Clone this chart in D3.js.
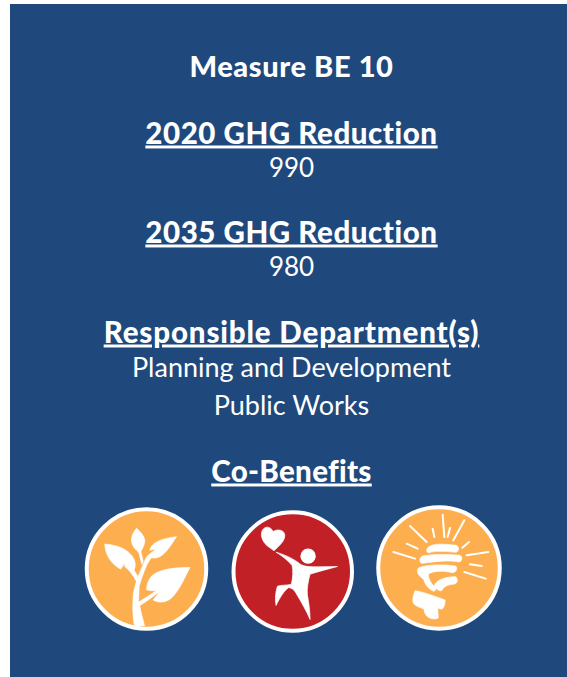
<!DOCTYPE html>
<html>
<head>
<meta charset="utf-8">
<script src="https://cdn.jsdelivr.net/npm/d3@7"></script>
<style>
  html, body { margin: 0; padding: 0; background: #fff; overflow: hidden; }
  text { font-family: Lato, "Open Sans", sans-serif; fill: #fff; text-anchor: middle; font-variant-ligatures: none; }
</style>
</head>
<body>
<svg id="chart"></svg>
<script>
'use strict'

let width = 567
let height = 677

// --------------------------------------------------------------------
// ------------------------------------------------------- DATA -------

let title = 'Measure BE 10'
let headings = ['2020 GHG Reduction', '2035 GHG Reduction', 'Responsible Department(s)', 'Co-Benefits']
let reductionValues = ['990', '980']
let departments = ['Planning and Development', 'Public Works']
let benefits = ['leaf', 'health', 'energy']
let benefitColors = ['#fdae4f', '#c12026', '#fdae4f']

// icon shapes, in 3x pixels around the circle centre
let icons = {
  leaf: {
    fill: [
      'M-30,-122 C-18,-112 -6,-98 -5,-85 C-6,-70 -14,-58 -20,-48 C-34,-58 -46,-72 -45,-90 C-44,-102 -38,-112 -30,-122 Z',
      'M-125,-75 C-100,-72 -78,-68 -60,-55 C-42,-42 -32,-26 -34,-8 L-38,8 C-46,0 -54,-12 -66,-14 C-74,-10 -72,-2 -78,0 C-104,-14 -124,-40 -125,-75 Z',
      'M90,-97 C72,-70 60,-48 38,-36 C24,-30 14,-33 6,-40 C14,-50 22,-52 28,-60 L10,-56 C14,-76 36,-90 90,-97 Z',
      'M131,-5 C112,30 100,62 76,86 C60,100 38,104 20,93 C28,82 38,72 44,60 C26,68 12,65 0,62 C2,42 8,26 22,16 C50,-2 90,-4 131,-5 Z',
      'M-36,172 C-42,140 -42,110 -40,80 C-36,50 -28,30 -18,5 L-4,-28 C2,-40 10,-48 22,-50 L26,-44 C14,-36 8,-24 2,-14 C-6,4 -14,24 -22,52 L-24,100 C-12,92 8,80 40,58 L44,64 C16,86 -4,100 -20,110 C-18,130 -10,150 -6,170 Z',
      'M-62,-14 C-48,-10 -34,6 -24,26 L-30,38 C-38,22 -50,4 -66,-8 Z',
      'M-28,-70 L-22,-72 L-10,-24 L-14,-14 Z'
    ]
  },
  health: {
    fill: [
      'M-78,-78 C-90,-90 -98,-106 -92,-122 C-84,-138 -68,-136 -58,-120 C-48,-128 -26,-126 -24,-110 C-22,-92 -42,-76 -56,-62 Z',
      'M-50,-58 C-30,-52 -8,-44 12,-30 C18,-26 22,-22 26,-20 C40,-14 56,-14 76,-14 L134,-15 C110,-8 84,-2 52,8 C46,30 42,52 44,70 C48,94 52,118 52,144 C42,120 26,92 8,62 C4,54 -4,50 -12,48 C-24,56 -38,76 -50,102 C-54,84 -52,62 -46,44 C-34,40 -18,42 -4,38 C0,18 2,-2 -2,-18 C-16,-34 -30,-46 -50,-58 Z'
    ],
    circles: [[46, -46, 23]]
  },
  energy: {
    fill: [
      'M-32,-62 C-20,-75 20,-72 52,-68 C62,-64 60,-48 50,-47 C20,-50 -10,-52 -30,-46 C-40,-46 -38,-58 -32,-62 Z',
      'M-50,-36 C-20,-42 30,-42 62,-38 C72,-34 70,-20 60,-18 C30,-24 -10,-20 -50,-14 C-60,-14 -60,-30 -50,-36 Z',
      'M-62,0 C-40,-10 10,-12 50,-6 C58,2 50,14 40,14 C10,6 -20,10 -32,18 C-34,34 -18,52 -8,62 L-14,70 C-30,66 -42,50 -46,34 C-58,26 -70,14 -62,0 Z',
      'M-14,52 C-8,36 20,26 50,26 C58,34 56,46 46,48 C26,50 14,56 8,68 C0,70 -10,64 -14,52 Z',
      'M-72,68 C-45,72 -15,84 18,96 C20,104 14,122 8,124 L-4,120 L-2,150 C-15,156 -35,152 -42,136 L-46,122 C-60,118 -76,112 -78,102 C-80,90 -76,80 -72,68 Z'
    ],
    lines: [
      [-137, -48, -72, -28], [-97, -73, -64, -58], [-87, -126, -37, -78],
      [-19, -118, -14, -93], [11, -160, 16, -93], [33, -120, 26, -93],
      [76, -143, 43, -83], [90, -78, 70, -61], [83, -38, 148, -48],
      [93, -11, 128, -6], [76, 12, 140, 32]
    ]
  }
}

// --------------------------------------------------------------------
// ------------------------------------------------------ SCALES ------

let iconX = d3.scalePoint().domain(benefits).range([146.5, 439])
let iconY = d3.scaleOrdinal().domain(benefits).range([569, 571.5, 568])
let iconR = d3.scaleOrdinal().domain(benefits).range([59.75, 59.25, 60.75])

// --------------------------------------------------------------------
// ----------------------------------------------------- DISPLAY ------

let svg = d3.select('#chart')
  .attr('width', width)
  .attr('height', height)
  .style('display', 'block')

svg.append('rect')
  .attr('x', 10)
  .attr('y', 4)
  .attr('width', width - 10)
  .attr('height', height - 4)
  .attr('fill', '#1f497d')

function addText(str, y, size, bold, underline, spacing) {
  return svg.append('text')
    .attr('x', 291.5)
    .attr('y', y)
    .attr('font-size', size)
    .attr('font-weight', bold ? 900 : 400)
    .attr('letter-spacing', spacing || 0)
    .attr('text-decoration', underline ? 'underline' : null)
    .text(str)
}

addText(title, 77, 29, true, false, 0.6)

addText(headings[0], 143.5, 29.5, true, true, 0.55)
addText(reductionValues[0], 177, 26, false, false)

addText(headings[1], 242.5, 29.5, true, true, 0.55)
addText(reductionValues[1], 276, 26, false, false)

addText(headings[2], 342.5, 29.5, true, true, 0.85)
addText(departments[0], 377, 27, false, false)
addText(departments[1], 415, 27, false, false)

addText(headings[3], 481.5, 29.5, true, true, 0.3)

// --- icons
let iconG = svg.selectAll('g.icon')
  .data(benefits)
  .enter()
  .append('g')
    .attr('class', 'icon')
    .attr('transform', d => 'translate(' + iconX(d) + ',' + iconY(d) + ')')

iconG.append('circle')
  .attr('r', d => iconR(d))
  .attr('fill', (d, i) => benefitColors[i])
  .attr('stroke', '#fff')
  .attr('stroke-width', 4)

let glyphG = iconG.append('g')
  .attr('transform', 'scale(' + 1 / 3 + ')')
  .attr('fill', '#fff')

glyphG.selectAll('path')
  .data(d => icons[d].fill)
  .enter()
  .append('path')
    .attr('d', d => d)
    .attr('stroke', '#fff')
    .attr('stroke-width', 2)
    .attr('stroke-linejoin', 'round')

glyphG.selectAll('circle')
  .data(d => icons[d].circles || [])
  .enter()
  .append('circle')
    .attr('cx', d => d[0])
    .attr('cy', d => d[1])
    .attr('r', d => d[2])

glyphG.selectAll('line')
  .data(d => icons[d].lines || [])
  .enter()
  .append('line')
    .attr('x1', d => d[0])
    .attr('y1', d => d[1])
    .attr('x2', d => d[2])
    .attr('y2', d => d[3])
    .attr('stroke', '#fff')
    .attr('stroke-width', 6)
    .attr('stroke-linecap', 'round')
</script>
</body>
</html>
